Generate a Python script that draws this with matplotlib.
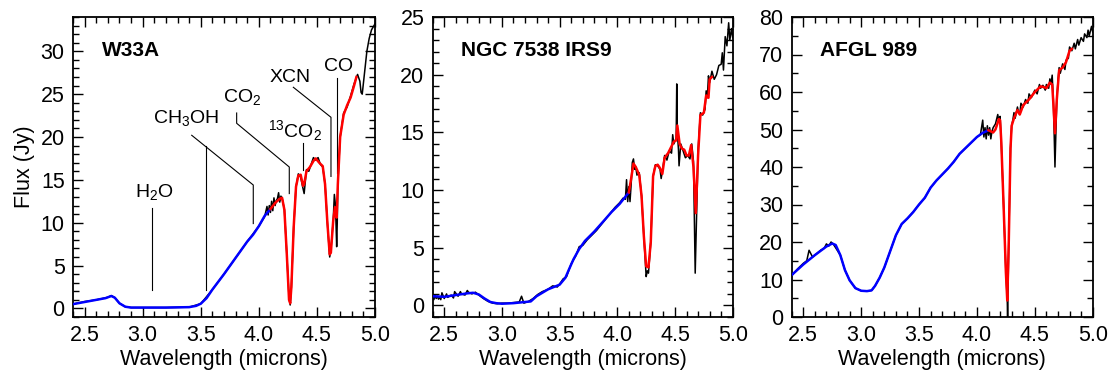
import numpy as np
import matplotlib
matplotlib.use('Agg')
import matplotlib.pyplot as plt
from matplotlib.ticker import MultipleLocator, FormatStrFormatter

plt.rcParams['font.family'] = ['Liberation Sans', 'DejaVu Sans']
plt.rcParams['mathtext.default'] = 'regular'

# --- W33A ---
w33a_fit_wl = [2.40, 2.50, 2.60, 2.68, 2.73, 2.76, 2.80, 2.85, 2.90, 3.00, 3.20, 3.40,
               3.46, 3.50, 3.55, 3.60, 3.70, 3.80, 3.90, 3.95, 4.00, 4.05, 4.10, 4.14,
               4.18, 4.20, 4.22, 4.24, 4.26, 4.27, 4.28, 4.30, 4.32, 4.34, 4.36, 4.38,
               4.39, 4.41, 4.44, 4.47, 4.49, 4.52, 4.55, 4.57, 4.59, 4.61, 4.62, 4.64,
               4.655, 4.67, 4.68, 4.70, 4.73, 4.76, 4.79, 4.82, 4.84]
w33a_fit = [0.5, 0.75, 1.0, 1.2, 1.45, 1.25, 0.6, 0.2, 0.1, 0.1, 0.1, 0.15,
            0.3, 0.55, 1.2, 2.2, 4.0, 5.9, 7.8, 8.6, 9.6, 10.8, 11.6, 12.3,
            12.8, 12.9, 11.5, 6.5, 1.0, 0.6, 2.5, 9.5, 14.2, 15.5, 15.6, 14.3,
            14.5, 16.0, 16.5, 17.2, 17.5, 17.0, 16.6, 14.5, 10.0, 6.3, 6.5, 10.2,
            11.8, 10.6, 14.5, 20.0, 22.6, 23.7, 24.6, 26.0, 27.0]
w33a_obs_wl = [2.40, 2.50, 2.60, 2.70, 2.73, 2.76, 2.80, 2.85, 2.90, 3.00, 3.20, 3.40,
               3.50, 3.60, 3.70, 3.80, 3.90, 4.00, 4.05, 4.07, 4.08, 4.09, 4.10, 4.11,
               4.12, 4.13, 4.14, 4.15, 4.16, 4.17, 4.18, 4.19, 4.20, 4.22, 4.24, 4.26,
               4.27, 4.28, 4.30, 4.32, 4.34, 4.36, 4.38, 4.39, 4.41, 4.43, 4.45, 4.47,
               4.49, 4.51, 4.53, 4.55, 4.57, 4.59, 4.61, 4.62, 4.64, 4.65, 4.66, 4.67,
               4.675, 4.68, 4.70, 4.73, 4.76, 4.79, 4.82, 4.85, 4.87, 4.88, 4.89, 4.91,
               4.93, 4.95, 4.97, 5.00]
w33a_obs = [0.5, 0.8, 1.0, 1.3, 1.5, 1.25, 0.6, 0.2, 0.1, 0.1, 0.1, 0.15,
            0.55, 2.2, 4.0, 5.9, 7.8, 9.6, 10.7, 11.9, 10.9, 12.0, 11.2, 12.5,
            11.4, 12.9, 12.0, 12.6, 12.8, 13.5, 12.4, 13.1, 12.9, 11.5, 6.5, 1.2,
            0.4, 2.5, 9.5, 14.2, 15.7, 15.3, 14.0, 13.4, 16.2, 16.0, 16.8, 17.6,
            17.3, 17.6, 16.8, 16.5, 14.5, 10.0, 6.0, 6.8, 10.2, 13.3, 12.0, 7.2,
            10.0, 14.5, 20.0, 22.8, 23.5, 24.8, 26.2, 27.3, 26.5, 25.2, 25.0, 27.5,
            30.0, 31.5, 32.5, 33.2]

# --- NGC 7538 IRS9 ---
irs9_fit_wl = [2.40, 2.50, 2.60, 2.70, 2.75, 2.80, 2.85, 2.90, 2.95, 3.00, 3.10, 3.20,
               3.25, 3.30, 3.35, 3.40, 3.45, 3.50, 3.55, 3.58, 3.62, 3.67, 3.72, 3.80,
               3.88, 3.95, 4.02, 4.06, 4.10, 4.12, 4.14, 4.16, 4.19, 4.21, 4.23, 4.25,
               4.27, 4.29, 4.31, 4.33, 4.35, 4.37, 4.39, 4.41, 4.44, 4.47, 4.49, 4.51,
               4.52, 4.54, 4.56, 4.58, 4.60, 4.62, 4.64, 4.66, 4.68, 4.70, 4.72, 4.75,
               4.77, 4.79, 4.80, 4.82]
irs9_fit = [0.8, 0.75, 0.9, 1.05, 1.1, 0.95, 0.6, 0.3, 0.2, 0.15, 0.2, 0.3,
            0.35, 0.8, 1.1, 1.4, 1.6, 1.8, 2.4, 3.1, 4.0, 4.9, 5.6, 6.4,
            7.3, 8.1, 8.8, 9.3, 9.8, 11.0, 12.3, 12.0, 11.3, 9.5, 6.0, 3.4,
            3.3, 5.5, 11.2, 12.1, 12.2, 11.9, 11.4, 12.8, 13.2, 13.8, 14.2, 14.3,
            15.6, 14.0, 13.6, 13.5, 13.0, 13.0, 13.9, 12.0, 8.0, 13.0, 16.5, 16.7,
            18.2, 18.0, 19.6, 19.8]
irs9_obs_wl = [2.40, 2.41, 2.42, 2.43, 2.44, 2.45, 2.46, 2.47, 2.48, 2.50, 2.52, 2.53,
               2.56, 2.58, 2.59, 2.62, 2.64, 2.65, 2.68, 2.70, 2.71, 2.74, 2.77, 2.80,
               2.84, 2.88, 2.92, 2.96, 3.00, 3.05, 3.10, 3.15,
               3.17, 3.19, 3.23, 3.27, 3.31, 3.35, 3.40, 3.44, 3.48, 3.51, 3.53, 3.56,
               3.60, 3.64, 3.67, 3.70, 3.74, 3.78, 3.82, 3.86, 3.90, 3.94, 3.98, 4.02,
               4.05, 4.07, 4.08, 4.09, 4.10, 4.11, 4.12, 4.13, 4.14, 4.15, 4.16, 4.17,
               4.19, 4.21, 4.23, 4.25, 4.26, 4.27, 4.29, 4.31, 4.33, 4.35, 4.37, 4.38,
               4.39, 4.41, 4.43, 4.45, 4.47, 4.48, 4.49, 4.51, 4.515, 4.52, 4.53, 4.535,
               4.55, 4.57, 4.59, 4.61, 4.63, 4.645, 4.66, 4.675, 4.69, 4.70, 4.72, 4.74,
               4.76, 4.77, 4.78, 4.79, 4.80, 4.82, 4.84, 4.86, 4.88, 4.90, 4.91, 4.92,
               4.935, 4.95, 4.965, 4.975, 4.99, 5.00]
irs9_obs = [0.9, 0.5, 0.9, 0.6, 0.8, 0.55, 0.7, 0.5, 1.1, 0.6, 1.0, 0.7,
            0.9, 0.65, 1.2, 0.8, 1.2, 1.0, 0.9, 1.3, 1.15, 1.0, 1.15, 0.9,
            0.6, 0.35, 0.2, 0.15, 0.2, 0.2, 0.25, 0.3,
            0.8, 0.2, 0.35, 0.6, 0.95, 1.2, 1.4, 1.7, 1.6, 2.0, 2.3, 2.5,
            3.6, 4.3, 5.1, 5.2, 5.7, 6.1, 6.5, 7.0, 7.5, 8.0, 8.5, 8.9,
            9.3, 9.2, 10.9, 9.0, 10.3, 9.0, 10.5, 12.4, 12.7, 11.8, 12.0, 11.3,
            11.5, 9.5, 6.0, 2.5, 3.0, 2.8, 5.5, 11.2, 12.2, 12.1, 11.8, 11.0,
            11.6, 13.0, 12.6, 13.4, 13.2, 14.8, 14.0, 14.5, 19.2, 15.0, 13.5, 12.1,
            14.0, 13.4, 12.8, 13.0, 12.7, 14.0, 12.5, 2.8, 9.0, 13.5, 16.7, 16.5,
            17.0, 18.6, 18.0, 19.9, 19.3, 20.3, 19.6, 20.0, 20.8, 20.9, 21.9, 20.4,
            23.3, 22.5, 24.5, 23.0, 24.0, 23.2]

# --- AFGL 989 ---
afgl_fit_wl = [2.40, 2.50, 2.60, 2.70, 2.75, 2.78, 2.82, 2.86, 2.90, 2.95, 3.00, 3.05,
               3.09, 3.12, 3.16, 3.20, 3.25, 3.30, 3.35, 3.40, 3.45, 3.50, 3.55, 3.60,
               3.65, 3.70, 3.75, 3.80, 3.85, 3.90, 3.95, 4.00, 4.05, 4.10, 4.14, 4.16,
               4.19, 4.20, 4.21, 4.23, 4.25, 4.262, 4.275, 4.29, 4.30, 4.32, 4.35, 4.37,
               4.40, 4.45, 4.50, 4.55, 4.58, 4.60, 4.63, 4.65, 4.66, 4.674, 4.69, 4.71,
               4.74, 4.77, 4.80, 4.82]
afgl_fit = [11.2, 14.0, 16.5, 18.8, 19.6, 19.2, 16.5, 12.5, 9.8, 7.7, 7.0, 6.9,
            7.1, 8.3, 10.5, 13.2, 17.5, 21.8, 24.8, 26.3, 28.0, 30.0, 31.8, 34.5,
            36.4, 38.0, 39.6, 41.4, 43.5, 45.0, 46.5, 48.0, 49.1, 49.8, 49.2, 50.0,
            52.8, 52.5, 47.0, 30.0, 12.0, 4.4, 20.0, 45.0, 51.0, 53.0, 55.2, 54.0,
            56.5, 58.0, 60.0, 61.5, 61.3, 61.0, 62.5, 62.0, 57.0, 49.0, 58.0, 65.8,
            66.5, 68.0, 71.0, 71.5]
afgl_obs_wl = [2.40, 2.45, 2.50, 2.53, 2.55, 2.58, 2.62, 2.65, 2.68, 2.70, 2.72, 2.74,
               2.76, 2.82, 2.86, 2.90, 2.95, 3.00, 3.05, 3.09, 3.12, 3.16, 3.20, 3.25,
               3.30, 3.35, 3.40, 3.45, 3.50, 3.55, 3.60, 3.65, 3.70, 3.75, 3.80, 3.85,
               3.90, 3.95, 4.00, 4.03, 4.05, 4.06, 4.07, 4.08, 4.09, 4.10, 4.11, 4.12,
               4.13, 4.14, 4.16, 4.18, 4.19, 4.20, 4.21, 4.23, 4.25, 4.262, 4.265, 4.275,
               4.29, 4.30, 4.31, 4.32, 4.33, 4.35, 4.36, 4.37, 4.38, 4.40, 4.42, 4.44,
               4.45, 4.47, 4.50, 4.52, 4.54, 4.55, 4.57, 4.59, 4.60, 4.62, 4.63, 4.64,
               4.65, 4.66, 4.674, 4.69, 4.70, 4.71, 4.72, 4.74, 4.76, 4.77, 4.79, 4.80,
               4.82, 4.84, 4.85, 4.87, 4.88, 4.90, 4.92, 4.93, 4.95, 4.96, 4.97, 4.99,
               5.00]
afgl_obs = [11.0, 12.8, 14.3, 15.0, 17.8, 16.0, 17.0, 17.8, 18.3, 19.5, 18.9, 20.0,
            19.4, 16.5, 12.5, 9.8, 7.7, 7.0, 6.9, 7.1, 8.3, 10.5, 13.2, 17.5,
            21.8, 24.8, 26.3, 28.0, 30.0, 31.8, 34.5, 36.4, 38.0, 39.6, 41.4, 43.5,
            45.0, 46.5, 48.0, 48.6, 52.5, 48.0, 50.5, 47.5, 51.0, 48.5, 50.5, 47.5,
            49.5, 50.5, 51.5, 54.0, 52.0, 53.5, 47.0, 30.0, 12.0, 4.4, 0.0, 20.0,
            45.0, 51.0, 52.5, 54.5, 53.0, 56.0, 54.5, 54.0, 57.0, 56.0, 58.0, 57.0,
            59.5, 58.5, 60.5, 59.5, 62.0, 61.0, 61.8, 60.5, 62.0, 61.0, 63.5, 62.0,
            64.5, 58.0, 40.0, 58.0, 63.0, 66.5, 65.0, 67.5, 66.0, 68.5, 69.0, 72.0,
            71.0, 73.0, 71.5, 74.0, 72.5, 74.5, 73.5, 75.5, 74.5, 76.5, 75.0, 77.5,
            76.0]

panels = [
    ('W33A', w33a_obs_wl, w33a_obs, w33a_fit_wl, w33a_fit, (-1, 34), 5, 1),
    ('NGC 7538 IRS9', irs9_obs_wl, irs9_obs, irs9_fit_wl, irs9_fit, (-1, 25), 5, 1),
    ('AFGL 989', afgl_obs_wl, afgl_obs, afgl_fit_wl, afgl_fit, (0, 80), 10, 5),
]
lefts = [73, 432.7, 791.7]
widths = [302, 300, 301]

fig = plt.figure(figsize=(11.10, 3.73), dpi=100)
axes = []
for i, (name, owl, obs, fwl, fit, ylim, ymaj, ymin) in enumerate(panels):
    ax = fig.add_axes([lefts[i] / 1110, 56 / 373, widths[i] / 1110, 300 / 373])
    fwl = np.array(fwl)
    fit = np.array(fit)
    blue = fwl <= 4.10
    red = fwl >= 4.10
    ax.plot(owl, obs, color='black', lw=1.1, zorder=2)
    ax.plot(fwl[blue], fit[blue], color='#0000ff', lw=1.8, zorder=3)
    ax.plot(fwl[red], fit[red], color='#ff0000', lw=1.8, zorder=3)
    ax.set_xlim(2.4, 5.0)
    ax.set_ylim(*ylim)
    ax.xaxis.set_major_locator(MultipleLocator(0.5))
    ax.xaxis.set_minor_locator(MultipleLocator(0.1))
    ax.xaxis.set_major_formatter(FormatStrFormatter('%.1f'))
    ax.yaxis.set_major_locator(MultipleLocator(ymaj))
    ax.yaxis.set_minor_locator(MultipleLocator(ymin))
    ax.tick_params(which='both', direction='in', top=True, right=True,
                   labelsize=15.5, width=1.0)
    ax.tick_params(which='major', length=7, pad=6)
    ax.tick_params(which='minor', length=4.5)
    for s in ax.spines.values():
        s.set_linewidth(1.3)
    ax.set_xlabel('Wavelength (microns)', fontsize=15.5, labelpad=2)
    ax.text(0.095, 0.887, name, transform=ax.transAxes, fontsize=15,
            fontweight='bold', ha='left', va='center')
    axes.append(ax)

axes[0].set_ylabel('Flux (Jy)', fontsize=15.5, labelpad=4)

# feature labels on W33A
ax = axes[0]
lab = dict(fontsize=14, ha='left', va='baseline')
ax.text(2.934, 12.97, 'H$_2$O', **lab)
ax.text(3.091, 21.67, 'CH$_3$OH', **lab)
ax.text(3.689, 24.12, 'CO$_2$', **lab)
ax.text(4.076, 20.04, '$^{13}$CO$_2$', **lab)
ax.text(4.096, 26.45, 'XCN', **lab)
ax.text(4.561, 27.74, 'CO', **lab)
ln = dict(color='black', lw=0.8)
ax.plot([3.078, 3.078], [11.7, 2.15], **ln)
ax.plot([3.422, 3.952, 3.952], [20.2, 14.4, 9.9], **ln)
ax.plot([3.543, 3.543], [18.9, 2.15], **ln)
ax.plot([3.809, 3.809, 4.262, 4.262], [22.8, 21.6, 16.5, 13.4], **ln)
ax.plot([4.383, 4.383], [19.3, 16.15], **ln)
ax.plot([4.297, 4.621, 4.621], [25.8, 22.3, 15.4], **ln)
ax.plot([4.67, 4.67], [26.85, 15.8], **ln)

fig.savefig('out.png', dpi=100)
